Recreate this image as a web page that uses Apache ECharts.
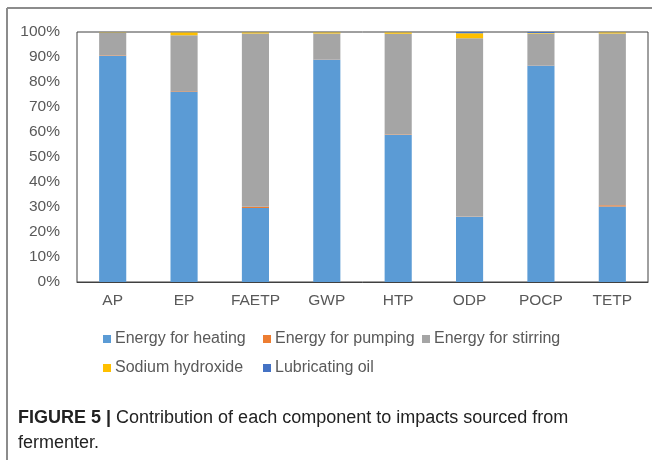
<!DOCTYPE html>
<html>
<head>
<meta charset="utf-8">
<script src="https://cdn.jsdelivr.net/npm/echarts@6/dist/echarts.min.js"></script>
<style>
  html, body { margin: 0; padding: 0; background: #fff; }
  #chart { width: 652px; height: 460px; }
</style>
</head>
<body>
<div id="chart"></div>
<script>
// impact categories
var categories = ['AP', 'EP', 'FAETP', 'GWP', 'HTP', 'ODP', 'POCP', 'TETP'];

// share of each component (%)
var heating  = [90.5, 76.2, 29.6, 89.0, 58.8, 26.1, 86.6, 30.2];
var pumping  = [0.2, 0.2, 0.5, 0.1, 0.2, 0.1, 0.1, 0.5];
var stirring = [9.0, 22.3, 69.3, 10.3, 40.3, 71.3, 12.7, 68.7];
var sodium   = [0.2, 1.2, 0.5, 0.5, 0.6, 2.0, 0.2, 0.5];
var lube     = [0.1, 0.1, 0.1, 0.1, 0.1, 0.5, 0.4, 0.1];

var seriesNames = ['Energy for heating', 'Energy for pumping', 'Energy for stirring',
                   'Sodium hydroxide', 'Lubricating oil'];
var yTicks = [0, 10, 20, 30, 40, 50, 60, 70, 80, 90, 100];

var colors = ['#5B9BD5', '#ED7D31', '#A5A5A5', '#FFC000', '#4472C4'];
var values = [heating, pumping, stirring, sodium, lube];

var dom = document.getElementById('chart');
var myChart = echarts.init(dom, null, { renderer: 'canvas' });

var font = 'Liberation Sans, Arial, sans-serif';

// legend spots, laid out like the Excel legend (two rows)
var legendSpots = [[98, 326], [258, 326], [417, 326], [98, 355], [258, 355]];

var series = seriesNames.map(function (name, i) {
    return {
        name: name,
        type: 'bar',
        stack: 'all',
        barWidth: '38%',
        itemStyle: { color: colors[i] },
        data: values[i]
    };
});

var option = {
    animation: false,
    color: colors,
    grid: {
        left: 77, right: 4, top: 32, bottom: 178,
        show: true,
        borderColor: '#404040',
        borderWidth: 1,
        backgroundColor: 'transparent'
    },
    legend: legendSpots.map(function (p, i) {
        return {
            data: [seriesNames[i]],
            left: p[0], top: p[1],
            itemWidth: 8, itemHeight: 8,
            itemGap: 0,
            icon: 'rect',
            textStyle: { color: '#595959', fontSize: 16, fontFamily: font, padding: [0, 0, 0, -1] }
        };
    }),
    xAxis: {
        type: 'category',
        data: categories,
        axisTick: { show: false },
        axisLine: { lineStyle: { color: '#404040', width: 1 } },
        axisLabel: { color: '#595959', fontSize: 15.5, fontFamily: font, margin: 11 }
    },
    yAxis: {
        type: 'value',
        min: yTicks[0],
        max: yTicks[yTicks.length - 1],
        interval: yTicks[1] - yTicks[0],
        splitLine: { show: false },
        axisLine: { show: false },
        axisTick: { show: false },
        axisLabel: {
            color: '#595959', fontSize: 15.5, fontFamily: font, margin: 17,
            formatter: '{value}%'
        }
    },
    graphic: [
        // outer frame (top and left edge of the figure box)
        { type: 'line', shape: { x1: 7, y1: 8, x2: 652, y2: 8 }, style: { stroke: '#8c8c8c', lineWidth: 2 } },
        { type: 'line', shape: { x1: 7, y1: 8, x2: 7, y2: 460 }, style: { stroke: '#8c8c8c', lineWidth: 2 } },
        {
            type: 'text', left: 18, top: 406,
            style: {
                text: '{b|FIGURE 5 |} Contribution of each component to impacts sourced from\nfermenter.',
                rich: {
                    b: { fontWeight: 'bold', fontSize: 18, fontFamily: font, fill: '#222' }
                },
                fontSize: 18, fontFamily: font, fill: '#222',
                lineHeight: 25
            }
        }
    ],
    series: series
};

myChart.setOption(option);
</script>
</body>
</html>
